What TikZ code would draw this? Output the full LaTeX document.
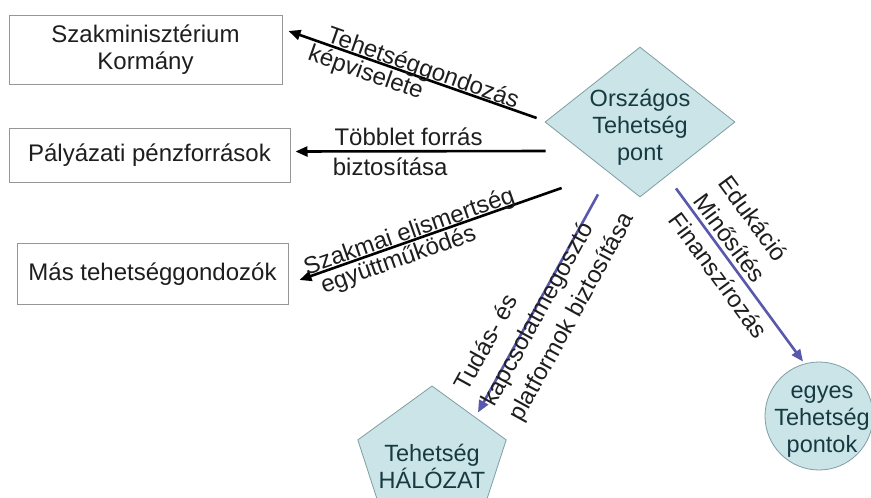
\documentclass[tikz,border=0pt]{standalone}
\usepackage{fontspec}
\setmainfont{Liberation Sans}
\usetikzlibrary{shapes.geometric, arrows.meta, positioning}

\definecolor{boxline}{RGB}{150,150,150}
\definecolor{tealfill}{RGB}{202,228,232}
\definecolor{tealline}{RGB}{128,158,162}
\definecolor{tealtext}{RGB}{22,58,64}
\definecolor{linkblue}{RGB}{88,88,172}
\definecolor{labeltext}{RGB}{30,30,30}

\tikzset{
    every node/.style={font=\fontsize{24}{27}\selectfont, text=labeltext},
    box/.style={draw=boxline, line width=1pt, rectangle, align=center, inner sep=0pt},
    pont/.style={draw=tealline, fill=tealfill, line width=0.8pt, inner sep=0pt},
    pontdia/.style={pont, diamond, minimum width=190pt, minimum height=150pt},
    pontpenta/.style={pont, regular polygon, regular polygon sides=5, minimum size=156pt},
    pontcirc/.style={pont, circle, minimum size=108pt},
    pontszoveg/.style={align=center, text=tealtext, inner sep=0pt, font=\fontsize{23.5}{27}\selectfont},
    lbl/.style={inner sep=1pt},
    lblmulti/.style={inner sep=1pt, align=left, font=\fontsize{24}{31}\selectfont},
    blackarrow/.style={draw=black, line width=2.6pt, -{Triangle[length=12pt,width=10pt]}},
    bluearrow/.style={draw=linkblue, line width=2.6pt, -{Triangle[length=12pt,width=10pt]}}
}

\begin{document}
\begin{tikzpicture}[x=1pt, y=-1pt]
    \useasboundingbox[fill=white] (0,0) rectangle (871,498);

    % partners on the left
    \node[box, minimum width=273pt, minimum height=69pt] (szak) at (145.5,50) {Szakminisztérium\\Kormány};
    \node[box, minimum width=281pt, minimum height=54pt, below right=43pt and 0pt of szak.south west] (palyazat) {Pályázati pénzforrások};
    \node[box, minimum width=271pt, minimum height=61pt, below right=60pt and 8pt of palyazat.south west] (mas) {Más tehetséggondozók};

    % the three tehetség shapes
    \node[pontdia] (orszagos) at (640,122) {};
    \node[pontpenta] (halozat) at (432,464) {};
    \node[pontcirc] (egyes) at (819,416) {};
    \node[pontszoveg] (orszagos-t) at ([yshift=-5pt]orszagos.center) {Országos\\Tehetség\\pont};
    \node[pontszoveg] (halozat-t) at ([yshift=-2pt]halozat.center) {Tehetség\\HÁLÓZAT};
    \node[pontszoveg] (egyes-t) at ([xshift=3pt,yshift=-6pt]egyes.center) {egyes\\Tehetség\\pontok};

    % arrow ends
    \coordinate (a1s) at ([xshift=-8pt,yshift=4pt]orszagos.west);
    \coordinate (a1e) at ([xshift=6pt,yshift=-16pt]szak.north east);
    \coordinate (a2s) at ([xshift=1pt,yshift=-29pt]orszagos.west);
    \coordinate (a2e) at ([xshift=5pt,yshift=4pt]palyazat.east);
    \coordinate (a3s) at ([xshift=17pt,yshift=-66pt]orszagos.west);
    \coordinate (a3e) at ([xshift=11pt,yshift=-6pt]mas.east);
    \coordinate (a4s) at ([xshift=-42pt,yshift=3pt]orszagos.south);
    \coordinate (a4e) at ([xshift=46pt,yshift=-27pt]halozat.corner 1);
    \coordinate (a5s) at ([xshift=36pt,yshift=9pt]orszagos.south);
    \coordinate (a5e) at ([xshift=-16pt]egyes.north);

    \draw[blackarrow] (a1s) -- node[lbl, sloped, pos=0.47, anchor=base, yshift=2pt] (l1a) {Tehetséggondozás}
        node[lbl, sloped, pos=0.67, below=1pt] (l1b) {képviselete} (a1e);
    \draw[blackarrow] (a2s) -- node[lbl, sloped, pos=0.853, anchor=base west, yshift=6pt] (l2a) {Többlet forrás}
        node[lbl, sloped, pos=0.86, anchor=north west, yshift=-4pt] (l2b) {biztosítása} (a2e);
    \draw[blackarrow] (a3s) -- node[lbl, sloped, pos=0.57, anchor=base, yshift=2pt] (l3a) {Szakmai elismertség}
        node[lbl, sloped, pos=0.64, below=1pt] (l3b) {együttműködés} (a3e);
    \draw[bluearrow] (a4s) -- node[lblmulti, sloped, pos=0.96, anchor=west, yshift=-6pt] (l4)
        {Tudás- és\\kapcsolatmegosztó\\platformok biztosítása} (a4e);
    \draw[bluearrow] (a5s) -- node[lblmulti, sloped, pos=0.085, anchor=west, yshift=14pt] (l5)
        {Edukáció\\Minősítés\\Finanszírozás} (a5e);
\end{tikzpicture}
\end{document}
